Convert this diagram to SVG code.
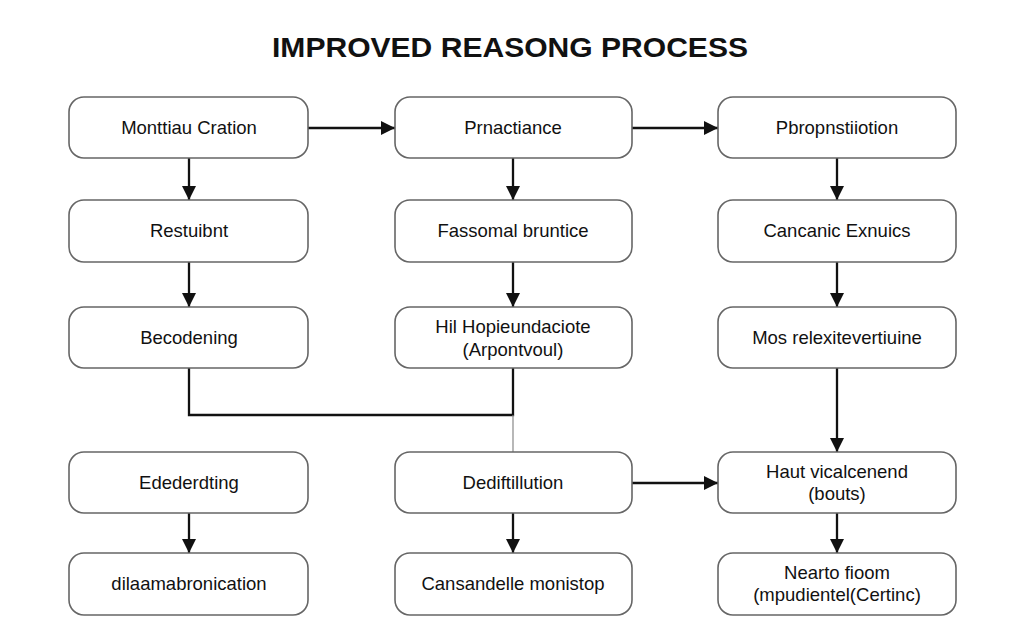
<svg xmlns="http://www.w3.org/2000/svg" width="1024" height="640" viewBox="0 0 1024 640">
<defs>
<style>
.box{fill:#ffffff;stroke:#666666;stroke-width:1.6}
.lbl{font-family:"Liberation Sans",Arial,sans-serif;font-size:18.5px;fill:#111111;text-anchor:middle}
.title{font-family:"Liberation Sans",Arial,sans-serif;font-size:28px;font-weight:bold;fill:#111111;text-anchor:middle}
.ar{fill:none;stroke:#111111;stroke-width:2.3}
.thin{fill:none;stroke:#888888;stroke-width:1.2}
</style>
<marker id="ah" viewBox="0 0 14 14" refX="14" refY="7" markerWidth="14" markerHeight="14" markerUnits="userSpaceOnUse" orient="auto">
<path d="M0,0 L14,7 L0,14 Z" fill="#111111"/>
</marker>
</defs>
<rect x="0" y="0" width="1024" height="640" fill="#ffffff"/>
<text class="title" x="510" y="57" textLength="476" lengthAdjust="spacingAndGlyphs">IMPROVED REASONG PROCESS</text>

<g id="connectors">
<line class="ar" x1="308" y1="128" x2="395" y2="128" marker-end="url(#ah)"/>
<line class="ar" x1="632" y1="128" x2="718" y2="128" marker-end="url(#ah)"/>
<line class="ar" x1="189" y1="158" x2="189" y2="200" marker-end="url(#ah)"/>
<line class="ar" x1="189" y1="262" x2="189" y2="307" marker-end="url(#ah)"/>
<line class="ar" x1="513" y1="158" x2="513" y2="200" marker-end="url(#ah)"/>
<line class="ar" x1="513" y1="262" x2="513" y2="307" marker-end="url(#ah)"/>
<line class="ar" x1="837" y1="158" x2="837" y2="200" marker-end="url(#ah)"/>
<line class="ar" x1="837" y1="262" x2="837" y2="307" marker-end="url(#ah)"/>
<line class="ar" x1="837" y1="368" x2="837" y2="452" marker-end="url(#ah)"/>
<polyline class="ar" points="189,368 189,415 513,415 513,368"/>
<line class="thin" x1="513" y1="415" x2="513" y2="452"/>
<line class="ar" x1="632" y1="483" x2="718" y2="483" marker-end="url(#ah)"/>
<line class="ar" x1="189" y1="513" x2="189" y2="553" marker-end="url(#ah)"/>
<line class="ar" x1="513" y1="513" x2="513" y2="553" marker-end="url(#ah)"/>
<line class="ar" x1="837" y1="513" x2="837" y2="553" marker-end="url(#ah)"/>
</g>

<g id="n1"><rect class="box" x="69" y="97" width="239" height="61" rx="15"/><text class="lbl" x="189" y="134">Monttiau Cration</text></g>
<g id="n2"><rect class="box" x="395" y="97" width="237" height="61" rx="15"/><text class="lbl" x="513" y="134">Prnactiance</text></g>
<g id="n3"><rect class="box" x="718" y="97" width="238" height="61" rx="15"/><text class="lbl" x="837" y="134">Pbropnstiiotion</text></g>

<g id="n4"><rect class="box" x="69" y="200" width="239" height="62" rx="15"/><text class="lbl" x="189" y="237">Restuibnt</text></g>
<g id="n5"><rect class="box" x="395" y="200" width="237" height="62" rx="15"/><text class="lbl" x="513" y="237">Fassomal bruntice</text></g>
<g id="n6"><rect class="box" x="718" y="200" width="238" height="62" rx="15"/><text class="lbl" x="837" y="237">Cancanic Exnuics</text></g>

<g id="n7"><rect class="box" x="69" y="307" width="239" height="61" rx="15"/><text class="lbl" x="189" y="344">Becodening</text></g>
<g id="n8"><rect class="box" x="395" y="307" width="237" height="61" rx="15"/><text class="lbl" x="513" y="333">Hil Hopieundaciote</text><text class="lbl" x="513" y="356">(Arpontvoul)</text></g>
<g id="n9"><rect class="box" x="718" y="307" width="238" height="61" rx="15"/><text class="lbl" x="837" y="344">Mos relexitevertiuine</text></g>

<g id="n10"><rect class="box" x="69" y="452" width="239" height="61" rx="15"/><text class="lbl" x="189" y="489">Edederdting</text></g>
<g id="n11"><rect class="box" x="395" y="452" width="237" height="61" rx="15"/><text class="lbl" x="513" y="489">Dediftillution</text></g>
<g id="n12"><rect class="box" x="718" y="452" width="238" height="61" rx="15"/><text class="lbl" x="837" y="478">Haut vicalcenend</text><text class="lbl" x="837" y="500">(bouts)</text></g>

<g id="n13"><rect class="box" x="69" y="553" width="239" height="62" rx="15"/><text class="lbl" x="189" y="590">dilaamabronication</text></g>
<g id="n14"><rect class="box" x="395" y="553" width="237" height="62" rx="15"/><text class="lbl" x="513" y="590">Cansandelle monistop</text></g>
<g id="n15"><rect class="box" x="718" y="553" width="238" height="62" rx="15"/><text class="lbl" x="837" y="579">Nearto fioom</text><text class="lbl" x="837" y="601">(mpudientel(Certinc)</text></g>
</svg>
